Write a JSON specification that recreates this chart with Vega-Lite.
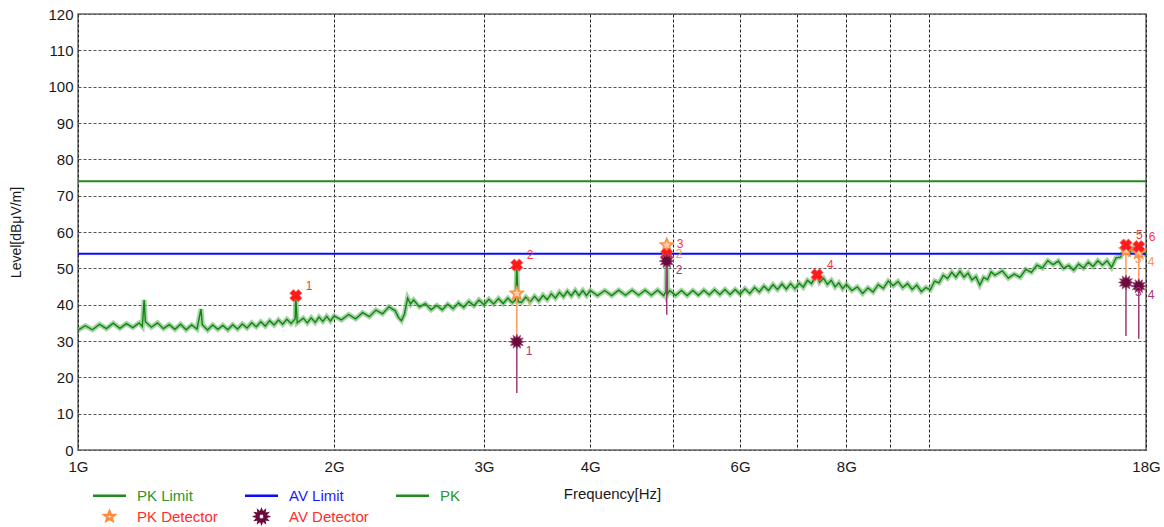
{
  "$schema": "https://vega.github.io/schema/vega-lite/v6.json",
  "width": 1068,
  "height": 436,
  "autosize": {"type": "none"},
  "padding": {"left": 78, "top": 14, "right": 18, "bottom": 77},
  "background": "white",
  "config": {
    "font": "Liberation Sans",
    "view": {"stroke": "#6a6a6a", "strokeWidth": 1.5},
    "axisY": {"tickCount": 13}
  },
  "datasets": {
    "limits": [
      {"name": "PK Limit", "level": 74},
      {"name": "AV Limit", "level": 54}
    ],
    "trace": [
      {"f": 1.00, "v": 33.0}, {"f": 1.02, "v": 34.2}, {"f": 1.04, "v": 33.1}, {"f": 1.06, "v": 34.6},
      {"f": 1.08, "v": 33.4}, {"f": 1.10, "v": 34.9}, {"f": 1.12, "v": 33.5}, {"f": 1.14, "v": 34.8},
      {"f": 1.16, "v": 33.7}, {"f": 1.18, "v": 35.0}, {"f": 1.19, "v": 34.0}, {"f": 1.196, "v": 41.3},
      {"f": 1.20, "v": 35.3}, {"f": 1.22, "v": 33.8}, {"f": 1.24, "v": 35.0}, {"f": 1.26, "v": 33.4},
      {"f": 1.28, "v": 34.5}, {"f": 1.30, "v": 33.2}, {"f": 1.32, "v": 34.6}, {"f": 1.34, "v": 33.1},
      {"f": 1.36, "v": 34.4}, {"f": 1.38, "v": 33.3}, {"f": 1.395, "v": 38.8}, {"f": 1.40, "v": 34.5},
      {"f": 1.42, "v": 33.0}, {"f": 1.44, "v": 34.4}, {"f": 1.46, "v": 33.2}, {"f": 1.48, "v": 34.3},
      {"f": 1.50, "v": 33.1}, {"f": 1.52, "v": 34.5}, {"f": 1.54, "v": 33.3}, {"f": 1.56, "v": 34.7},
      {"f": 1.58, "v": 33.6}, {"f": 1.60, "v": 35.0}, {"f": 1.62, "v": 33.9}, {"f": 1.64, "v": 35.3},
      {"f": 1.66, "v": 34.1}, {"f": 1.68, "v": 35.6}, {"f": 1.70, "v": 34.4}, {"f": 1.72, "v": 35.8},
      {"f": 1.74, "v": 34.6}, {"f": 1.76, "v": 36.0}, {"f": 1.78, "v": 34.8}, {"f": 1.80, "v": 36.1},
      {"f": 1.803, "v": 42.4}, {"f": 1.81, "v": 35.0}, {"f": 1.84, "v": 36.3}, {"f": 1.86, "v": 35.0},
      {"f": 1.88, "v": 36.4}, {"f": 1.90, "v": 35.1}, {"f": 1.92, "v": 36.6}, {"f": 1.94, "v": 35.4},
      {"f": 1.96, "v": 36.8}, {"f": 1.98, "v": 35.5}, {"f": 2.00, "v": 36.9}, {"f": 2.04, "v": 35.8},
      {"f": 2.08, "v": 37.3}, {"f": 2.12, "v": 36.1}, {"f": 2.16, "v": 37.8}, {"f": 2.20, "v": 36.7},
      {"f": 2.24, "v": 38.5}, {"f": 2.28, "v": 37.5}, {"f": 2.32, "v": 39.4}, {"f": 2.36, "v": 38.3},
      {"f": 2.38, "v": 36.5}, {"f": 2.40, "v": 35.6}, {"f": 2.42, "v": 37.5}, {"f": 2.44, "v": 41.8},
      {"f": 2.46, "v": 40.2}, {"f": 2.48, "v": 41.3}, {"f": 2.52, "v": 39.4}, {"f": 2.56, "v": 40.3},
      {"f": 2.60, "v": 38.6}, {"f": 2.64, "v": 39.8}, {"f": 2.68, "v": 38.6}, {"f": 2.72, "v": 40.1},
      {"f": 2.76, "v": 38.9}, {"f": 2.80, "v": 40.5}, {"f": 2.84, "v": 39.3}, {"f": 2.88, "v": 40.9},
      {"f": 2.92, "v": 39.7}, {"f": 2.96, "v": 41.3}, {"f": 3.00, "v": 40.0}, {"f": 3.04, "v": 41.5},
      {"f": 3.08, "v": 40.2}, {"f": 3.12, "v": 41.7}, {"f": 3.16, "v": 40.3}, {"f": 3.20, "v": 41.8},
      {"f": 3.24, "v": 40.5}, {"f": 3.27, "v": 41.4}, {"f": 3.279, "v": 50.9}, {"f": 3.29, "v": 40.8},
      {"f": 3.32, "v": 40.6}, {"f": 3.36, "v": 42.1}, {"f": 3.40, "v": 40.8}, {"f": 3.44, "v": 42.3},
      {"f": 3.48, "v": 41.0}, {"f": 3.52, "v": 42.6}, {"f": 3.56, "v": 41.4}, {"f": 3.60, "v": 43.0},
      {"f": 3.64, "v": 41.8}, {"f": 3.68, "v": 43.4}, {"f": 3.72, "v": 42.2}, {"f": 3.76, "v": 43.7},
      {"f": 3.80, "v": 42.4}, {"f": 3.84, "v": 43.9}, {"f": 3.88, "v": 42.5}, {"f": 3.92, "v": 43.9},
      {"f": 3.96, "v": 42.5}, {"f": 4.00, "v": 43.9}, {"f": 4.08, "v": 42.5}, {"f": 4.16, "v": 43.9},
      {"f": 4.24, "v": 42.5}, {"f": 4.32, "v": 44.0}, {"f": 4.40, "v": 42.6}, {"f": 4.48, "v": 44.0},
      {"f": 4.56, "v": 42.6}, {"f": 4.64, "v": 44.0}, {"f": 4.72, "v": 42.6}, {"f": 4.80, "v": 44.0},
      {"f": 4.88, "v": 42.5}, {"f": 4.91, "v": 43.6}, {"f": 4.92, "v": 53.9}, {"f": 4.93, "v": 42.9},
      {"f": 4.96, "v": 43.9}, {"f": 5.04, "v": 42.5}, {"f": 5.12, "v": 43.9}, {"f": 5.20, "v": 42.5},
      {"f": 5.28, "v": 43.9}, {"f": 5.36, "v": 42.6}, {"f": 5.44, "v": 44.0}, {"f": 5.52, "v": 42.7},
      {"f": 5.60, "v": 44.1}, {"f": 5.68, "v": 42.8}, {"f": 5.76, "v": 44.2}, {"f": 5.84, "v": 42.8},
      {"f": 5.92, "v": 44.2}, {"f": 6.00, "v": 42.9}, {"f": 6.08, "v": 44.4}, {"f": 6.16, "v": 43.1},
      {"f": 6.24, "v": 44.7}, {"f": 6.32, "v": 43.5}, {"f": 6.40, "v": 45.1}, {"f": 6.48, "v": 43.9},
      {"f": 6.56, "v": 45.5}, {"f": 6.64, "v": 44.2}, {"f": 6.72, "v": 45.7}, {"f": 6.80, "v": 44.3},
      {"f": 6.88, "v": 45.8}, {"f": 6.96, "v": 44.4}, {"f": 7.04, "v": 45.9}, {"f": 7.12, "v": 44.8},
      {"f": 7.20, "v": 46.7}, {"f": 7.28, "v": 45.8}, {"f": 7.36, "v": 47.8}, {"f": 7.39, "v": 48.0},
      {"f": 7.44, "v": 46.2}, {"f": 7.52, "v": 47.3}, {"f": 7.60, "v": 45.6}, {"f": 7.68, "v": 46.7},
      {"f": 7.76, "v": 44.9}, {"f": 7.84, "v": 46.0}, {"f": 7.92, "v": 44.4}, {"f": 8.00, "v": 45.6},
      {"f": 8.12, "v": 43.9}, {"f": 8.24, "v": 44.9}, {"f": 8.36, "v": 43.1}, {"f": 8.48, "v": 44.6},
      {"f": 8.60, "v": 43.5}, {"f": 8.72, "v": 45.5}, {"f": 8.84, "v": 44.5}, {"f": 8.96, "v": 46.5},
      {"f": 9.08, "v": 45.2}, {"f": 9.20, "v": 46.4}, {"f": 9.32, "v": 44.7}, {"f": 9.44, "v": 45.8},
      {"f": 9.56, "v": 44.2}, {"f": 9.68, "v": 45.4}, {"f": 9.80, "v": 43.6}, {"f": 9.92, "v": 44.7},
      {"f": 10.04, "v": 44.1}, {"f": 10.16, "v": 46.5}, {"f": 10.28, "v": 46.0}, {"f": 10.40, "v": 48.1},
      {"f": 10.52, "v": 47.2}, {"f": 10.64, "v": 48.9}, {"f": 10.76, "v": 47.6}, {"f": 10.88, "v": 49.2},
      {"f": 11.00, "v": 47.6}, {"f": 11.12, "v": 48.7}, {"f": 11.24, "v": 46.8}, {"f": 11.36, "v": 47.7},
      {"f": 11.48, "v": 45.4}, {"f": 11.60, "v": 47.5}, {"f": 11.72, "v": 46.9}, {"f": 11.84, "v": 49.0},
      {"f": 11.96, "v": 48.1}, {"f": 12.20, "v": 49.3}, {"f": 12.40, "v": 47.3}, {"f": 12.60, "v": 48.4},
      {"f": 12.80, "v": 47.5}, {"f": 13.00, "v": 49.7}, {"f": 13.20, "v": 48.9}, {"f": 13.40, "v": 50.9},
      {"f": 13.60, "v": 50.1}, {"f": 13.80, "v": 52.1}, {"f": 14.00, "v": 51.0}, {"f": 14.20, "v": 52.0},
      {"f": 14.40, "v": 50.0}, {"f": 14.60, "v": 50.8}, {"f": 14.80, "v": 49.5}, {"f": 15.00, "v": 51.2},
      {"f": 15.20, "v": 50.1}, {"f": 15.40, "v": 51.7}, {"f": 15.60, "v": 50.5}, {"f": 15.80, "v": 52.1},
      {"f": 16.00, "v": 50.9}, {"f": 16.20, "v": 52.1}, {"f": 16.40, "v": 50.3}, {"f": 16.60, "v": 52.9},
      {"f": 16.80, "v": 53.1}, {"f": 17.00, "v": 55.3}, {"f": 17.05, "v": 56.2}, {"f": 17.20, "v": 54.2},
      {"f": 17.40, "v": 55.7}, {"f": 17.60, "v": 54.0}, {"f": 17.65, "v": 55.8}, {"f": 17.80, "v": 55.0},
      {"f": 18.00, "v": 53.4}
    ],
    "peaks": [
      {"f": 1.803, "level": 42.5, "n": "1"},
      {"f": 3.279, "level": 50.9, "n": "2"},
      {"f": 4.92, "level": 53.9, "n": "3"},
      {"f": 7.39, "level": 48.2, "n": "4"},
      {"f": 17.05, "level": 56.4, "n": "5"},
      {"f": 17.65, "level": 56.0, "n": "6"}
    ],
    "detectors": [
      {"f": 3.279, "pk": 43.1, "av": 29.8, "floor": 15.7, "n": "1"},
      {"f": 4.92, "pk": 56.4, "av": 52.0, "floor": 37.2, "n": "2"},
      {"f": 17.05, "pk": 55.0, "av": 46.1, "floor": 31.4, "n": "3"},
      {"f": 17.65, "pk": 54.3, "av": 45.1, "floor": 30.6, "n": "4"}
    ],
    "legendItems": [
      {"series": "PK Limit"},
      {"series": "AV Limit"},
      {"series": "PK"},
      {"series": "PK Detector"},
      {"series": "AV Detector"}
    ]
  },
  "layer": [
    {
      "data": {"name": "trace"},
      "mark": {"type": "line", "color": "#5aae5a", "strokeWidth": 5, "opacity": 0.55},
      "encoding": {
        "x": {
          "field": "f",
          "type": "quantitative",
          "scale": {"type": "log", "domain": [1, 18], "nice": false},
          "axis": {
            "title": "Frequency[Hz]",
            "values": [1, 2, 3, 4, 5, 6, 7, 8, 9, 10, 18],
            "labelExpr": "indexof([1, 2, 3, 4, 6, 8, 18], datum.value) >= 0 ? datum.value + 'G' : ''",
            "domain": false,
            "ticks": false,
            "grid": true,
            "gridColor": "#222222",
            "gridDash": [3, 2],
            "gridWidth": 1,
            "gridOpacity": 1,
            "labelFont": "Liberation Sans",
            "labelFontSize": 15,
            "labelColor": "#1a1a1a",
            "labelPadding": 9,
            "labelFlush": false,
            "labelOverlap": false,
            "titleFont": "Liberation Sans",
            "titleFontSize": 15,
            "titleFontWeight": "normal",
            "titleColor": "#1a1a1a",
            "titlePadding": 12
          }
        },
        "y": {
          "field": "v",
          "type": "quantitative",
          "scale": {"domain": [0, 120], "nice": false, "zero": true},
          "axis": {
            "title": "Level[dBμV/m]",
            "values": [0, 10, 20, 30, 40, 50, 60, 70, 80, 90, 100, 110, 120],
            "tickCount": 13,
            "labelOverlap": false,
            "domain": false,
            "ticks": false,
            "grid": true,
            "gridColor": "#555555",
            "gridDash": [3, 2],
            "gridWidth": 1,
            "gridOpacity": 1,
            "labelFont": "Liberation Sans",
            "labelFontSize": 15,
            "labelColor": "#1a1a1a",
            "labelPadding": 5,
            "labelFlush": false,
            "titleFont": "Liberation Sans",
            "titleFontSize": 14,
            "titleFontWeight": "normal",
            "titleColor": "#1a1a1a",
            "titlePadding": 24
          }
        }
      }
    },
    {
      "data": {"name": "trace"},
      "mark": {"type": "line", "color": "#118411", "strokeWidth": 1.4},
      "encoding": {
        "x": {"field": "f", "type": "quantitative"},
        "y": {"field": "v", "type": "quantitative"}
      }
    },
    {
      "data": {"name": "limits"},
      "transform": [{"filter": "datum.name === 'PK Limit'"}],
      "mark": {"type": "rule", "color": "#1f8a1f", "strokeWidth": 2},
      "encoding": {"y": {"field": "level", "type": "quantitative"}}
    },
    {
      "data": {"name": "limits"},
      "transform": [{"filter": "datum.name === 'AV Limit'"}],
      "mark": {"type": "rule", "color": "#0a0aff", "strokeWidth": 2},
      "encoding": {"y": {"field": "level", "type": "quantitative"}}
    },
    {
      "data": {"name": "detectors"},
      "mark": {"type": "rule", "color": "#9b3d78", "strokeWidth": 1.5},
      "encoding": {
        "x": {"field": "f", "type": "quantitative"},
        "y": {"field": "av", "type": "quantitative"},
        "y2": {"field": "floor"}
      }
    },
    {
      "data": {"name": "detectors"},
      "mark": {"type": "rule", "color": "#ff9a5a", "strokeWidth": 1.5},
      "encoding": {
        "x": {"field": "f", "type": "quantitative"},
        "y": {"field": "pk", "type": "quantitative"},
        "y2": {"field": "av"}
      }
    },
    {
      "data": {"name": "detectors"},
      "mark": {
        "type": "point",
        "shape": "M0,-1L0.26,-0.36L0.951,-0.309L0.42,0.14L0.588,0.809L0,0.44L-0.588,0.809L-0.42,0.14L-0.951,-0.309L-0.26,-0.36Z",
        "filled": true,
        "fill": "#ffcda5",
        "stroke": "#ff8a3a",
        "strokeWidth": 1.5,
        "size": 180,
        "opacity": 1
      },
      "encoding": {
        "x": {"field": "f", "type": "quantitative"},
        "y": {"field": "pk", "type": "quantitative"}
      }
    },
    {
      "data": {"name": "peaks"},
      "mark": {
        "type": "point",
        "shape": "M-1,-0.4L-0.4,-1L0,-0.6L0.4,-1L1,-0.4L0.6,0L1,0.4L0.4,1L0,0.6L-0.4,1L-1,0.4L-0.6,0Z",
        "filled": true,
        "fill": "#ff1a1a",
        "stroke": "#ff6a6a",
        "strokeWidth": 0.8,
        "size": 150,
        "opacity": 1
      },
      "encoding": {
        "x": {"field": "f", "type": "quantitative"},
        "y": {"field": "level", "type": "quantitative"}
      }
    },
    {
      "data": {"name": "detectors"},
      "mark": {
        "type": "point",
        "shape": "M1,0L0.58,0.155L0.866,0.5L0.424,0.424L0.5,0.866L0.155,0.58L0,1L-0.155,0.58L-0.5,0.866L-0.424,0.424L-0.866,0.5L-0.58,0.155L-1,0L-0.58,-0.155L-0.866,-0.5L-0.424,-0.424L-0.5,-0.866L-0.155,-0.58L0,-1L0.155,-0.58L0.5,-0.866L0.424,-0.424L0.866,-0.5L0.58,-0.155Z",
        "filled": true,
        "fill": "#6a0a3c",
        "stroke": "#a04a7a",
        "strokeWidth": 0.8,
        "size": 220,
        "opacity": 1
      },
      "encoding": {
        "x": {"field": "f", "type": "quantitative"},
        "y": {"field": "av", "type": "quantitative"}
      }
    },
    {
      "data": {"name": "peaks"},
      "mark": {"type": "text", "color": "#ff3535", "fontSize": 12, "font": "Liberation Sans", "dx": 10, "dy": -10, "align": "left"},
      "encoding": {
        "x": {"field": "f", "type": "quantitative"},
        "y": {"field": "level", "type": "quantitative"},
        "text": {"field": "n"}
      }
    },
    {
      "data": {"name": "detectors"},
      "mark": {"type": "text", "color": "#ff9350", "fontSize": 12, "font": "Liberation Sans", "dx": 9, "dy": 9, "align": "left"},
      "encoding": {
        "x": {"field": "f", "type": "quantitative"},
        "y": {"field": "pk", "type": "quantitative"},
        "text": {"field": "n"}
      }
    },
    {
      "data": {"name": "detectors"},
      "mark": {"type": "text", "color": "#a8357a", "fontSize": 12, "font": "Liberation Sans", "dx": 9, "dy": 9, "align": "left"},
      "encoding": {
        "x": {"field": "f", "type": "quantitative"},
        "y": {"field": "av", "type": "quantitative"},
        "text": {"field": "n"}
      }
    },
    {
      "data": {"name": "legendItems"},
      "mark": {"type": "point", "filled": false, "opacity": 0},
      "encoding": {
        "color": {
          "field": "series",
          "type": "nominal",
          "scale": {
            "domain": ["PK Limit", "AV Limit", "PK", "PK Detector", "AV Detector"],
            "range": ["#1f8a1f", "#0a0aff", "#1f8a1f", "#ff8a3a", "#6a0a3c"]
          },
          "legend": {
            "title": null,
            "orient": "none",
            "legendX": 20,
            "legendY": 470,
            "direction": "horizontal",
            "columns": 3,
            "columnPadding": 22,
            "rowPadding": 1,
            "padding": 0,
            "symbolSize": 400,
            "symbolStrokeWidth": 2.5,
            "symbolOpacity": 1,
            "labelFont": "Liberation Sans",
            "labelFontSize": 15,
            "labelOffset": 16,
            "labelLimit": 200,
            "labelColor": {"expr": "datum.value === 'AV Limit' ? '#1a1aff' : (indexof(datum.value, 'Detector') >= 0 ? '#ff2d2d' : '#2a952a')"},
            "encode": {
              "labels": {
                "update": {
                  "fill": {
                    "condition": [
                      {"test": "datum.value === 'AV Limit'", "value": "#1a1aff"},
                      {"test": "indexof(datum.value, 'Detector') >= 0", "value": "#ff2d2d"}
                    ],
                    "value": "#2a952a"
                  }
                }
              },
              "symbols": {
                "update": {
                  "fill": {
                    "condition": [
                      {"test": "datum.value === 'AV Detector'", "value": "#6a0a3c"},
                      {"test": "datum.value === 'PK Detector'", "value": "#ffcda5"}
                    ],
                    "value": "transparent"
                  },
                  "strokeWidth": {
                    "condition": {"test": "indexof(datum.value, 'Detector') >= 0", "value": 1.2},
                    "value": 2.5
                  }
                }
              }
            }
          }
        },
        "shape": {
          "field": "series",
          "type": "nominal",
          "scale": {
            "domain": ["PK Limit", "AV Limit", "PK", "PK Detector", "AV Detector"],
            "range": [
              "M-1.65,0H1.65",
              "M-1.65,0H1.65",
              "M-1.65,0H1.65",
              "M0,-0.5L0.13,-0.18L0.476,-0.155L0.21,0.07L0.294,0.405L0,0.22L-0.294,0.405L-0.21,0.07L-0.476,-0.155L-0.13,-0.18Z",
              "M0.6,0L0.348,0.093L0.52,0.3L0.254,0.254L0.3,0.52L0.093,0.348L0,0.6L-0.093,0.348L-0.3,0.52L-0.254,0.254L-0.52,0.3L-0.348,0.093L-0.6,0L-0.348,-0.093L-0.52,-0.3L-0.254,-0.254L-0.3,-0.52L-0.093,-0.348L0,-0.6L0.093,-0.348L0.3,-0.52L0.254,-0.254L0.52,-0.3L0.348,-0.093Z"
            ]
          },
          "legend": {
            "title": null,
            "orient": "none",
            "legendX": 20,
            "legendY": 470,
            "direction": "horizontal",
            "columns": 3,
            "columnPadding": 22,
            "rowPadding": 1,
            "padding": 0,
            "symbolSize": 400,
            "symbolStrokeWidth": 2.5,
            "symbolOpacity": 1,
            "labelFont": "Liberation Sans",
            "labelFontSize": 15,
            "labelOffset": 16,
            "labelLimit": 200,
            "labelColor": {"expr": "datum.value === 'AV Limit' ? '#1a1aff' : (indexof(datum.value, 'Detector') >= 0 ? '#ff2d2d' : '#2a952a')"},
            "encode": {
              "labels": {
                "update": {
                  "fill": {
                    "condition": [
                      {"test": "datum.value === 'AV Limit'", "value": "#1a1aff"},
                      {"test": "indexof(datum.value, 'Detector') >= 0", "value": "#ff2d2d"}
                    ],
                    "value": "#2a952a"
                  }
                }
              },
              "symbols": {
                "update": {
                  "fill": {
                    "condition": [
                      {"test": "datum.value === 'AV Detector'", "value": "#6a0a3c"},
                      {"test": "datum.value === 'PK Detector'", "value": "#ffcda5"}
                    ],
                    "value": "transparent"
                  },
                  "strokeWidth": {
                    "condition": {"test": "indexof(datum.value, 'Detector') >= 0", "value": 1.2},
                    "value": 2.5
                  }
                }
              }
            }
          }
        }
      }
    }
  ]
}
